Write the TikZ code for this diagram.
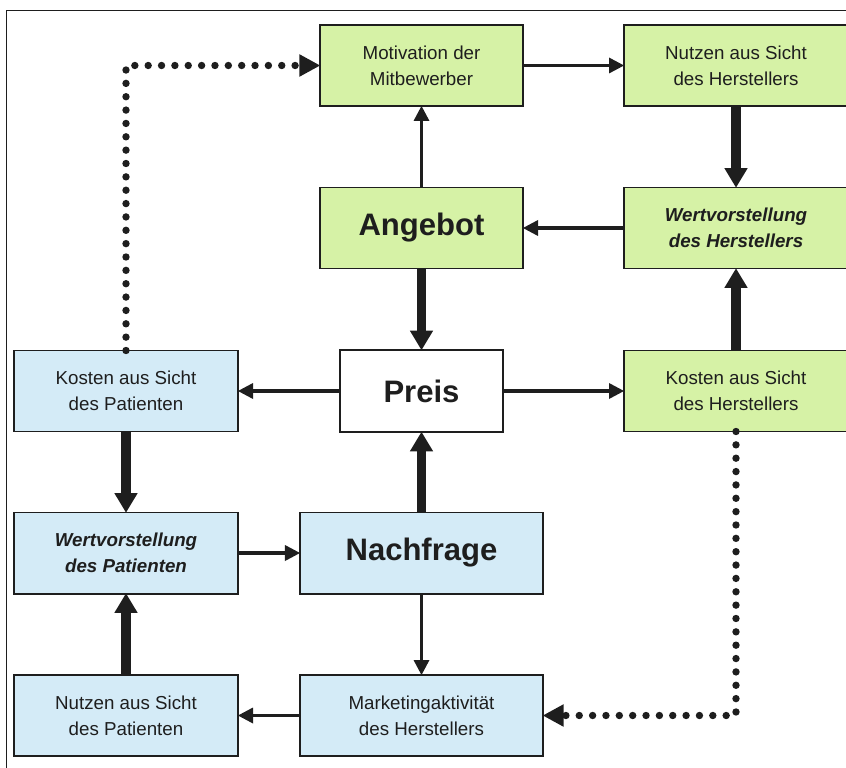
\documentclass[tikz,border=0pt]{standalone}
\usepackage{fontspec}
\setmainfont{Liberation Sans}
\usetikzlibrary{arrows.meta}
\definecolor{herstgreen}{RGB}{214,242,166}
\definecolor{patblue}{RGB}{212,235,247}
\definecolor{inkgray}{RGB}{30,30,30}
\begin{document}
\begin{tikzpicture}[x=0.03cm, y=-0.03cm,
    box/.style={draw=inkgray, line width=1.7pt, inner sep=0pt, outer sep=0pt,
      align=center, text=inkgray, font=\fontsize{16}{22}\selectfont},
    sidebox/.style={box, minimum width=6.72cm, minimum height=2.43cm},
    midbox/.style={box, minimum width=6.09cm, minimum height=2.43cm},
    widebox/.style={box, minimum width=7.29cm, minimum height=2.43cm},
    bigtext/.style={font=\fontsize{26.5}{30}\selectfont\bfseries},
    valtext/.style={font=\fontsize{16}{22}\selectfont\bfseries\itshape},
    thinarrow/.style={draw=inkgray, line width=2.8pt,
      -{Triangle[length=0.45cm, width=0.48cm, line width=0pt]}},
    thickarrow/.style={draw=inkgray, line width=8.5pt,
      -{Triangle[length=0.58cm, width=0.7cm, line width=0pt]}},
    dotarrow/.style={draw=inkgray, line width=6.3pt, line cap=round,
      dash pattern=on 0pt off 11.4pt,
      -{Triangle[length=0.62cm, width=0.68cm, line width=0pt]}}]
    \useasboundingbox (0,0) rectangle (846,768);

    % Frame
    \draw[inkgray, line width=0.8pt] (6,768) -- (6,10) -- (846,10);

    % Hersteller side
    \node[midbox, fill=herstgreen] (motiv) at (421.5,65.5) {Motivation der\\Mitbewerber};
    \node[sidebox, fill=herstgreen] (nutzenH) at (736,65.5) {Nutzen aus Sicht\\des Herstellers};
    \node[midbox, fill=herstgreen, bigtext] (angebot) at (421.5,228) {Angebot};
    \node[sidebox, fill=herstgreen, valtext] (wertH) at (736,228) {Wertvorstellung\\des Herstellers};
    \node[sidebox, fill=herstgreen] (kostenH) at (736,391) {Kosten aus Sicht\\des Herstellers};

    % Preis
    \node[box, fill=white, bigtext, minimum width=4.89cm, minimum height=2.46cm] (preis) at (421.5,391) {Preis};

    % Patienten side
    \node[sidebox, fill=patblue] (kostenP) at (126,391) {Kosten aus Sicht\\des Patienten};
    \node[sidebox, fill=patblue, valtext] (wertP) at (126,553) {Wertvorstellung\\des Patienten};
    \node[widebox, fill=patblue, bigtext] (nachfrage) at (421.5,553) {Nachfrage};
    \node[sidebox, fill=patblue] (nutzenP) at (126,715.5) {Nutzen aus Sicht\\des Patienten};
    \node[widebox, fill=patblue] (marketing) at (421.5,715.5) {Marketingaktivität\\des Herstellers};

    % Thin arrows
    \draw[thinarrow] (angebot) -- (motiv);
    \draw[thinarrow] (motiv) -- (nutzenH);
    \draw[thinarrow] (wertH) -- (angebot);
    \draw[thinarrow] (preis) -- (kostenP);
    \draw[thinarrow] (preis) -- (kostenH);
    \draw[thinarrow] (wertP) -- (nachfrage);
    \draw[thinarrow] (nachfrage) -- (marketing);
    \draw[thinarrow] (marketing) -- (nutzenP);

    % Thick arrows
    \draw[thickarrow] (nutzenH) -- (wertH);
    \draw[thickarrow] (kostenH) -- (wertH);
    \draw[thickarrow] (angebot) -- (preis);
    \draw[thickarrow] (nachfrage) -- (preis);
    \draw[thickarrow] (kostenP) -- (wertP);
    \draw[thickarrow] (nutzenP) -- (wertP);

    % Dotted feedback
    \draw[dotarrow] (kostenP.north) |- (motiv.west);
    \draw[dotarrow] (kostenH.south) |- (marketing.east);
\end{tikzpicture}
\end{document}
